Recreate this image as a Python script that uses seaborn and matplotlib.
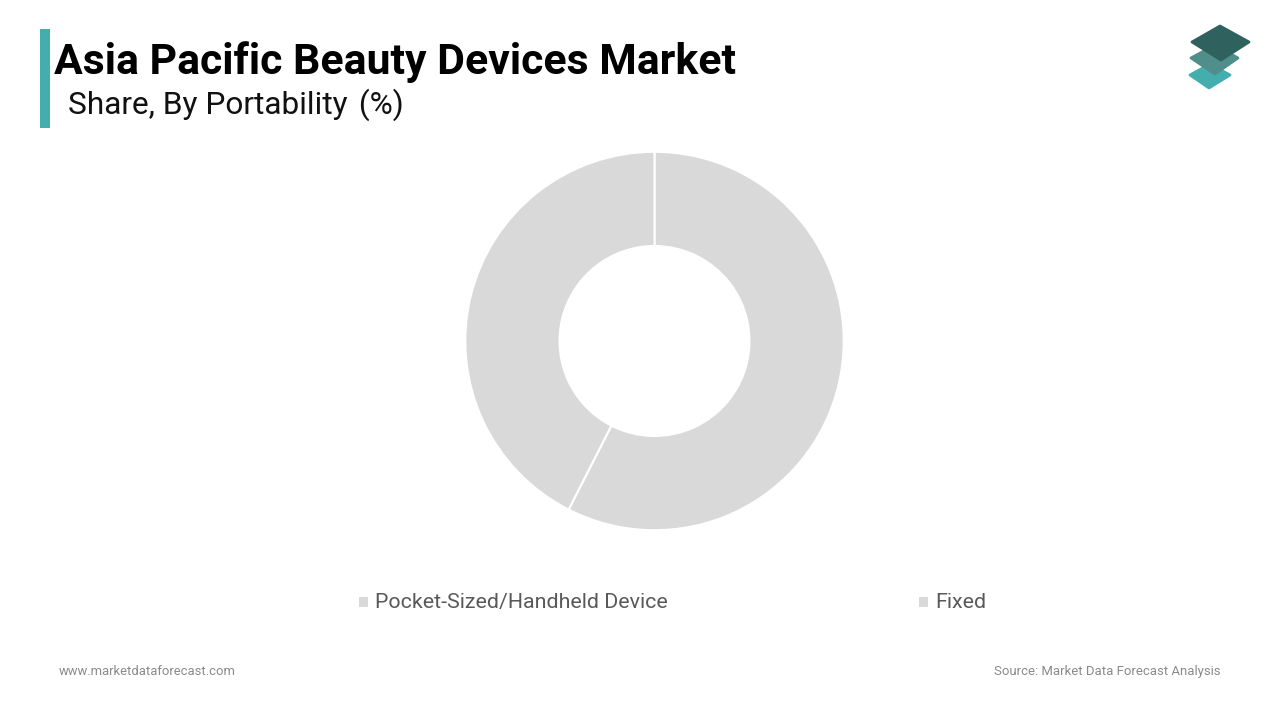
import matplotlib.pyplot as plt
import seaborn as sns
from matplotlib.patches import Polygon, Rectangle

categories = ['Pocket-Sized/Handheld Device', 'Fixed']
shares = [57.5, 42.5]
title = 'Asia Pacific Beauty Devices Market'
subtitle = 'Share, By Portability\u200a (%)'
site = 'www.marketdataforecast.com'
source = 'Source: Market Data Forecast Analysis'

sns.set_theme(style='white')
plt.rcParams['font.family'] = ['Roboto', 'DejaVu Sans']
colors = sns.color_palette(['#d9d9d9', '#d9d9d9'])

fig = plt.figure(figsize=(12.8, 7.2), dpi=100, facecolor='white')

# overlay in pixel coords for the header, legend and footer
bg = fig.add_axes([0, 0, 1, 1])
bg.set_xlim(0, 1280)
bg.set_ylim(720, 0)
bg.axis('off')

# donut
cx, cy, r = 654.5, 341, 189.2
ax = fig.add_axes([(cx - r) / 1280, 1 - (cy + r) / 720, 2 * r / 1280, 2 * r / 720])
ax.pie(shares, colors=colors, startangle=90, counterclock=False, radius=1,
       wedgeprops=dict(width=0.498, edgecolor='white', linewidth=1.5))
ax.set_xlim(-1, 1)
ax.set_ylim(-1, 1)

# header
bg.add_patch(Rectangle((40, 29), 10, 99, color='#44adad', lw=0))
bg.text(54, 74, title, fontsize=30.75, fontweight='bold', color='black', va='baseline')
bg.text(67.5, 113.5, subtitle, fontsize=22.8, color='#111111', va='baseline')

# logo
logo_style = dict(closed=True, lw=2, joinstyle='round')
bg.add_patch(Polygon([(1190, 75), (1210, 64), (1230, 75), (1209, 88)], fc='#44adad', ec='#44adad', **logo_style))
bg.add_patch(Polygon([(1191, 58), (1215, 45), (1238, 58), (1215, 74)], fc='#4f8e8a', ec='#4f8e8a', **logo_style))
bg.add_patch(Polygon([(1192, 42), (1220, 26), (1249, 42), (1221, 60)], fc='#2f625e', ec='#2f625e', **logo_style))

# legend
legend_x = [359, 919]
for name, color, x in zip(categories, colors, legend_x):
    bg.add_patch(Rectangle((x, 597), 9, 10, color=color, lw=0))
    bg.text(x + 16, 608, name, fontsize=15.4, color='#595959', va='baseline')

# footer
bg.text(59, 675, site, fontsize=9.35, color='#8a8a8a', va='baseline')
bg.text(1221, 675, source, fontsize=9.45, color='#8a8a8a', va='baseline', ha='right')

fig.savefig('out.png', dpi=100, facecolor='white')
